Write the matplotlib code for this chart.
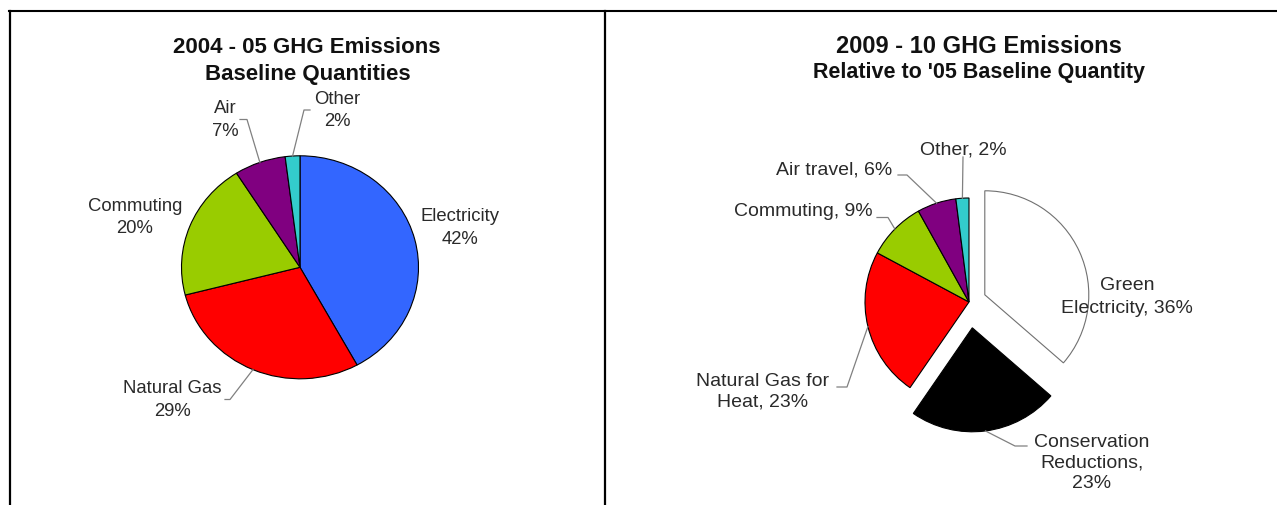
import numpy as np
import matplotlib.pyplot as plt

plt.rcParams['font.family'] = ['Liberation Sans', 'DejaVu Sans']

W, H = 1277, 506

# 2004-05 baseline
base_names = ["Electricity", "Natural Gas", "Commuting", "Air", "Other"]
base_values = [42, 29, 20, 7, 2]
base_colors = ["#3366FF", "#FF0000", "#99CC00", "#800080", "#33CCCC"]

# 2009-10 relative to baseline
cur_names = ["Green\nElectricity", "Conservation\nReductions", "Natural Gas for\nHeat",
             "Commuting", "Air travel", "Other"]
cur_values = [36, 23, 23, 9, 6, 2]
cur_seps = [", ", ",\n", ", ", ", ", ", ", ", "]
cur_colors = ["#FFFFFF", "#000000", "#FF0000", "#99CC00", "#800080", "#33CCCC"]
cur_explode = [0.167, 0.25, 0, 0, 0, 0]

fig = plt.figure(figsize=(W / 100, H / 100), dpi=100)
fig.patch.set_facecolor("white")

# overlay in pixel coordinates (y down)
ov = fig.add_axes([0, 0, 1, 1])
ov.set_xlim(0, W)
ov.set_ylim(H, 0)
ov.axis("off")

# table borders of the scanned page
ov.plot([9, W], [12, 12], color="black", lw=1.5)
ov.plot([9.5, 9.5], [12, H], color="black", lw=1.6)
ov.plot([604.5, 604.5], [12, H], color="black", lw=1.6)


def draw_pie(cx, cy, rx, ry, values, colors, explode=None):
    ax = fig.add_axes([0, 0, 1, 1])
    wedges, _ = ax.pie(values, colors=colors, startangle=90, counterclock=False,
                       explode=explode,
                       wedgeprops=dict(edgecolor="black", linewidth=0.8))
    ax.set_aspect("auto")
    ax.set_xlim(-cx / rx, (W - cx) / rx)
    ax.set_ylim(-(H - cy) / ry, cy / ry)
    ax.axis("off")
    ax.set_zorder(ov.get_zorder() - 1)
    return wedges


def edge_px(w, cx, cy, rx, ry):
    a = np.deg2rad((w.theta1 + w.theta2) / 2)
    x = w.center[0] + w.r * np.cos(a)
    y = w.center[1] + w.r * np.sin(a)
    return cx + rx * x, cy - ry * y


def leader(pts, end):
    xs = [p[0] for p in pts] + [end[0]]
    ys = [p[1] for p in pts] + [end[1]]
    ov.plot(xs, ys, color="#808080", lw=0.9)


# ---------------- left chart ----------------
lcx, lcy, lrx, lry = 300, 268.3, 118.5, 111.5
lw_ = draw_pie(lcx, lcy, lrx, lry, base_values, base_colors)

ov.text(307, 47, "2004 - 05 GHG Emissions", ha="center", va="center",
        fontsize=16, fontweight="bold", color="#111111")
ov.text(307.5, 74.5, "Baseline Quantities", ha="center", va="center",
        fontsize=16, fontweight="bold", color="#111111")

base_pos = [(460, 228), (172.5, 400), (135, 217.5), (225, 120), (337.5, 110.5)]
base_lead = [None, [(225, 400.5), (230, 400.5)], None,
             [(240, 120.5), (247, 120.5)], [(310, 111), (304, 111)]]
for i, name in enumerate(base_names):
    ov.text(base_pos[i][0], base_pos[i][1], f"{name}\n{base_values[i]}%",
            ha="center", va="center", fontsize=13.3, color="#2a2a2a",
            linespacing=1.42)
    if base_lead[i] is not None:
        leader(base_lead[i], edge_px(lw_[i], lcx, lcy, lrx, lry))

# ---------------- right chart ----------------
rcx, rcy, rr = 969, 303, 104
rw_ = draw_pie(rcx, rcy, rr, rr, cur_values, cur_colors, cur_explode)
rw_[0].set_edgecolor("#707070")

ov.text(979, 46.5, "2009 - 10 GHG Emissions", ha="center", va="center",
        fontsize=17, fontweight="bold", color="#111111")
ov.text(979, 72, "Relative to '05 Baseline Quantity", ha="center", va="center",
        fontsize=15.5, fontweight="bold", color="#111111")

cur_pos = [(1127, 297), (1091.5, 463), (763, 392), (803, 211.5), (834, 170), (963.5, 150)]
cur_spacing = [1.45, 1.3, 1.3, 1.2, 1.2, 1.2]
cur_lead = [None,
            [(1027, 447), (1015, 447)],
            [(837, 388), (847, 388)],
            [(877, 218.5), (888, 218.5)],
            [(898, 176), (907, 176)],
            [(963, 158)]]
for i, name in enumerate(cur_names):
    ov.text(cur_pos[i][0], cur_pos[i][1], f"{name}{cur_seps[i]}{cur_values[i]}%",
            ha="center", va="center", fontsize=14, color="#2a2a2a",
            linespacing=cur_spacing[i])
    if cur_lead[i] is not None:
        leader(cur_lead[i], edge_px(rw_[i], rcx, rcy, rr, rr))

fig.savefig("out.png", dpi=100, facecolor="white")
